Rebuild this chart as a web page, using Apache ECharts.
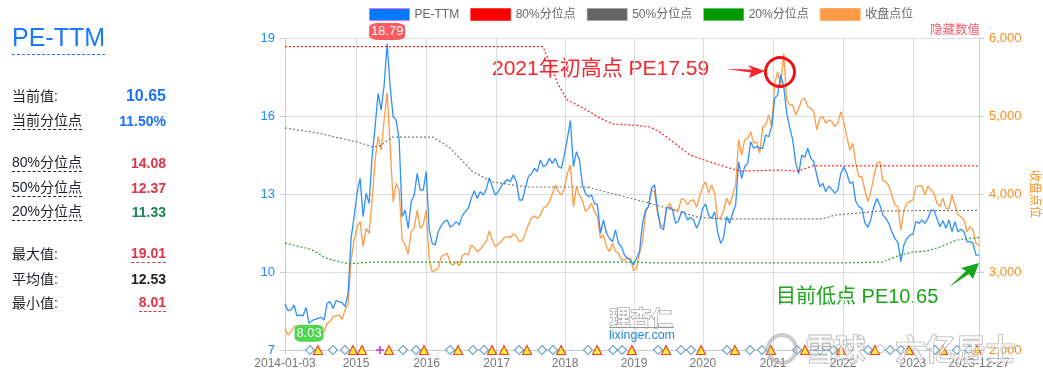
<!DOCTYPE html>
<html>
<head>
<meta charset="utf-8">
<script src="https://cdn.jsdelivr.net/npm/echarts@6/dist/echarts.min.js"></script>
<style>
  html, body { margin: 0; padding: 0; background: #fff; }
  body { font-family: "Liberation Sans", "Noto Sans CJK SC", sans-serif; }
  #chart { position: absolute; left: 0; top: 0; width: 1043px; height: 380px; }
  #panel { position: absolute; left: 12px; top: 0; width: 154px; height: 380px; }
  #panel .title { position: absolute; left: 0; top: 23px; font-size: 25px; line-height: 29px; color: #1a7aff; border-bottom: 1px dashed #1a7aff; padding-bottom: 2px; }
  #panel .label, #panel .value { position: absolute; line-height: 18px; white-space: nowrap; }
  #panel .label { left: 0; font-size: 14px; color: #212529; }
  #panel .value { right: 0; font-weight: bold; font-size: 14px; }
  #panel .tip { border-bottom: 1px dashed #212529; line-height: 17px; }
  #panel .tipRed { border-bottom: 1px dashed #dc3545; line-height: 17px; }
</style>
</head>
<body>
<div id="chart"></div>
<div id="panel"></div>
<script>
const startDate = '2014-01-03';
const endDate = '2023-12-27';
const sampleCount = 232;

const peValues = [
  // 2014 - 2015
  8.77,8.51,8.54,8.73,8.31,8.35,8.31,8.64,8.03,8.13,8.18,8.22,8.26,8.15,8.79,8.86,8.60,8.90,8.86,8.82,8.67,
  9.18,11.29,12.13,13.03,13.60,12.13,13.03,12.64,14.44,15.59,16.87,16.23,17.19,18.79,17.13,15.97,15.85,15.08,12.13,12.38,
  // 2015 - 2017
  11.68,12.70,12.96,13.79,13.15,13.15,13.86,11.62,11.10,11.04,11.55,11.78,11.94,12.00,11.72,11.81,11.94,11.81,12.15,12.32,
  12.45,12.83,13.13,12.83,13.09,12.96,13.18,13.63,13.28,12.96,13.09,13.31,13.44,13.56,13.47,13.73,13.47,12.77,12.77,13.22,
  // 2017 - 2019
  13.67,13.77,13.99,13.86,14.31,14.05,14.12,14.37,14.18,14.37,14.05,13.99,14.50,15.14,15.82,14.05,14.63,14.31,13.35,13.03,
  12.90,12.96,12.64,12.58,11.49,12.00,11.49,11.29,11.17,11.62,11.10,10.97,10.65,10.53,10.46,10.27,10.53,10.78,11.87,12.38,
  // 2019 - 2020
  12.51,13.22,13.35,12.38,11.72,11.62,12.45,12.49,12.38,11.87,11.97,12.32,12.28,12.00,12.10,12.00,11.68,11.94,
  12.45,12.62,12.19,12.06,12.32,11.55,11.10,11.33,12.13,11.87,12.26,12.58,14.24,13.60,14.05,14.18,15.01,14.76,
  // 2020 - 2022
  14.82,14.76,14.76,15.27,15.20,15.59,16.68,16.81,17.59,17.13,16.10,15.56,15.08,14.18,13.79,14.50,14.41,14.76,
  14.37,14.24,13.73,13.28,13.41,13.09,13.31,13.18,13.03,13.15,13.79,14.05,13.79,13.41,13.47,12.71,12.51,
  // 2022 - 2023
  12.45,11.90,11.72,12.03,12.51,12.83,12.58,12.19,12.06,11.87,11.55,11.29,11.13,10.40,11.04,11.29,11.42,11.46,11.94,11.87,
  12.00,11.87,12.06,12.38,12.38,12.06,11.74,11.97,11.68,12.00,11.55,11.94,11.55,11.64,11.55,11.17,11.17,11.10,10.65,10.65
];

const closeValues = [
  // 2014 - 2015
  2278,2192,2235,2299,2308,2278,2235,2214,2171,2150,2150,2150,2192,2235,2342,2363,2427,2436,2449,2393,2513,
  2590,3154,3410,3581,3645,3325,3560,3496,3923,4436,4735,4564,4949,5300,4607,3902,4137,4051,3410,3346,
  // 2015 - 2017
  3231,3517,3560,3795,3560,3603,3795,3154,3004,3026,3047,3197,3218,3239,3111,3090,3133,3077,3205,3239,
  3218,3346,3316,3261,3291,3346,3389,3526,3410,3325,3359,3389,3445,3453,3445,3487,3462,3389,3402,3496,
  // 2017 - 2019
  3603,3688,3718,3688,3731,3825,3838,3902,4000,4116,4030,3987,4073,4265,4370,3838,4094,3987,3915,3774,
  3816,3881,3774,3710,3432,3475,3325,3261,3368,3261,3239,3154,3154,3175,3175,3017,3047,3239,3389,3752,
  // 2019 - 2020
  3859,4051,4030,3752,3603,3581,3816,3880,3804,3795,3804,3945,3923,3859,3914,3923,3829,3966,
  4094,4158,4009,4115,4009,3688,3688,3795,3945,3859,3987,4116,4693,4500,4693,4714,4800,4650,
  // 2020 - 2022
  4671,4522,4855,4885,5013,4864,5419,5569,5398,5800,5205,5141,5141,5013,5099,5205,5227,5120,
  5099,5056,4821,4970,4992,4906,4949,4928,4864,4906,5056,4928,4735,4564,4650,4393,4222,
  // 2022 - 2023
  4222,4051,3902,4030,4222,4393,4415,4171,4158,4103,3987,3859,3838,3539,3795,3881,3902,3923,4094,4103,
  4103,3987,4103,4051,4009,3881,3838,3945,3816,3816,3987,3859,3731,3710,3667,3517,3581,3539,3368,3333
];

const p80Dates = ['2014-01-03','2017-09-19','2017-09-30','2017-10-26','2017-12-02','2018-01-23','2018-04-17','2018-07-15','2018-09-22','2019-01-05','2019-04-04','2019-05-27','2019-08-03','2019-10-31','2020-02-29','2020-07-20','2021-02-15','2021-05-15','2021-08-07','2023-12-27'];
const p80Values = [18.67,18.67,18.46,18.04,17.31,16.62,16.31,15.92,15.69,15.65,15.58,15.38,15.00,14.50,14.19,13.88,13.92,13.88,14.08,14.08];

const p50Dates = ['2014-01-03','2014-06-20','2015-01-16','2015-04-10','2015-05-17','2015-07-24','2016-02-19','2016-05-19','2016-09-16','2016-12-30','2017-06-27','2018-05-08','2019-03-09','2019-06-11','2019-12-07','2020-03-26','2021-09-23','2021-12-01','2022-04-11','2022-08-04','2023-12-27'];
const p50Values = [15.54,15.35,15.00,14.81,14.85,15.19,15.19,14.77,13.85,13.46,13.27,13.27,12.69,12.50,12.12,12.04,12.04,12.19,12.27,12.35,12.37];

const p20Dates = ['2014-01-03','2014-02-14','2014-05-14','2014-06-25','2014-08-01','2014-10-03','2014-12-10','2015-02-01','2015-04-10','2019-01-05','2019-04-04','2022-01-12','2022-08-04','2022-11-07','2023-01-14','2023-03-29','2023-06-05','2023-09-02','2023-12-27'];
const p20Values = [11.12,11.04,10.88,10.73,10.54,10.42,10.31,10.35,10.38,10.38,10.35,10.35,10.38,10.65,10.77,10.81,10.96,11.23,11.33];

const diamondDates = ['2014-05-14','2014-09-12','2014-11-14','2015-09-15','2015-11-22','2016-05-19','2016-09-16','2016-11-13','2017-05-16','2017-09-14','2017-11-11','2018-05-13','2018-09-22','2018-11-08','2019-05-16','2019-09-14','2019-11-05','2020-05-12','2020-09-10','2020-11-12','2021-05-15','2021-09-13','2021-11-20','2022-05-23','2022-09-16','2022-11-12','2023-05-10','2023-09-02','2023-11-04'];
const triangleDates = ['2014-06-25','2014-12-26','2015-02-11','2015-07-03','2016-01-03','2016-06-30','2016-12-25','2017-02-26','2017-06-27','2017-12-23','2018-06-30','2018-12-30','2019-06-27','2019-12-28','2020-06-23','2020-12-29','2021-06-26','2022-01-01','2022-06-29','2022-12-24','2023-06-21','2023-12-16'];
const plusDates = ['2015-05-17'];

const xTickDates = ['2014-01-03','2015-01-11','2016-01-17','2017-01-19','2018-01-13','2019-01-10','2020-01-07','2021-01-09','2022-01-12','2023-01-14','2023-12-27'];
const xTickLabels = ['2014-01-03','2015','2016','2017','2018','2019','2020','2021','2022','2023','2023-12-27'];

const statLabels = ['当前值:','当前分位点','80%分位点','50%分位点','20%分位点','最大值:','平均值:','最小值:'];
const statValues = ['10.65','11.50%','14.08','12.37','11.33','19.01','12.53','8.01'];
const statRows = [87,112,154,179,203,245,270,294];
const statColors = ['#1a6fff','#1a6fff','#dc3545','#dc3545','#198754','#dc3545','#212529','#dc3545'];
const statLabelTips = [false,true,true,true,true,false,false,false];
const statValueTips = [false,false,false,false,false,true,false,true];

const t = s => +new Date(s + 'T00:00:00');
const tMin = t(startDate);
const tMax = t(endDate);
const sampleTimes = peValues.map((_, i) => tMin + i * (tMax - tMin) / (sampleCount - 1));
const pairs = (dates, values) => dates.map((d, i) => [t(d), values[i]]);
const xTicks = xTickDates.map(t);

// left stats panel
const panel = document.getElementById('panel');
let html = '<div class="title">PE-TTM</div>';
statLabels.forEach((label, i) => {
  html += `<div class="label${statLabelTips[i] ? ' tip' : ''}" style="top:${statRows[i]}px">${label}</div>`;
  const size = i === 0 ? 16 : 14;
  html += `<div class="value${statValueTips[i] ? ' tipRed' : ''}" style="top:${statRows[i]}px;color:${statColors[i]};font-size:${size}px">${statValues[i]}</div>`;
});
panel.innerHTML = html;

const chart = echarts.init(document.getElementById('chart'), null, { renderer: 'canvas' });
const fontFamily = '"Liberation Sans", "Noto Sans CJK SC", sans-serif';
const quantileLine = (name, color, data) => ({
  name, type: 'line', yAxisIndex: 0, z: 4, symbol: 'none', silent: true, data,
  lineStyle: { color, width: 1.2, type: [2, 2] }
});
const markerRow = (name, dates, symbol, size, style) => ({
  name, type: 'scatter', yAxisIndex: 0, z: 5, symbol, symbolSize: size, silent: true, clip: false,
  data: dates.map(d => [t(d), 7]), itemStyle: style
});
const bubbleLabel = { show: true, color: '#fff', fontSize: 13, fontFamily, formatter: p => p.value };

chart.setOption({
  animation: false,
  textStyle: { fontFamily },
  legend: {
    left: 364, top: 3, itemWidth: 40, itemHeight: 12, itemGap: 11,
    textStyle: { color: '#666', fontSize: 12, fontFamily },
    data: [
      { name: 'PE-TTM', icon: 'rect', itemStyle: { color: '#007bff', borderColor: '#f070f0', borderWidth: 1 } },
      { name: '80%分位点', icon: 'rect', itemStyle: { color: '#ff0000', borderColor: '#ff0000', borderWidth: 1, borderType: 'dotted' } },
      { name: '50%分位点', icon: 'rect', itemStyle: { color: '#666666', borderColor: '#999999', borderWidth: 1, borderType: 'dotted' } },
      { name: '20%分位点', icon: 'rect', itemStyle: { color: '#009900', borderColor: '#55bb55', borderWidth: 1, borderType: 'dotted' } },
      { name: '收盘点位', icon: 'rect', itemStyle: { color: '#ff9b44', borderColor: '#ffb070', borderWidth: 1 } }
    ]
  },
  grid: { left: 285, right: 64, top: 38, bottom: 30, outerBoundsMode: 'none' },
  xAxis: {
    type: 'value', min: tMin, max: tMax, scale: true,
    axisLine: { lineStyle: { color: '#ccc' } },
    axisTick: { show: true, length: 4, lineStyle: { color: '#ccc' }, customValues: xTicks },
    splitLine: { show: true, lineStyle: { color: '#ddd' }, customValues: xTicks },
    axisLabel: {
      color: '#777', fontSize: 12, margin: 8, hideOverlap: false,
      customValues: xTicks, showMinLabel: true, showMaxLabel: true, alignMinLabel: 'center', alignMaxLabel: 'center',
      formatter: v => { const i = xTicks.indexOf(v); return i >= 0 ? xTickLabels[i] : ''; }
    }
  },
  yAxis: [
    {
      type: 'value', min: 7, max: 19, interval: 3, position: 'left',
      axisLine: { show: true, lineStyle: { color: '#ccc' } },
      axisTick: { show: true, length: 5, lineStyle: { color: '#ccc' } },
      axisLabel: { color: '#1e88ff', fontSize: 13, margin: 10 },
      splitLine: { show: true, lineStyle: { color: '#ddd' } }
    },
    {
      type: 'value', min: 2000, max: 6000, interval: 1000, position: 'right',
      name: '收盘点位', nameLocation: 'middle', nameRotate: -90, nameGap: 49, nameMoveOverlap: false,
      nameTextStyle: { color: '#ff8c1a', fontSize: 12 },
      axisLine: { show: true, lineStyle: { color: '#ccc' } },
      axisTick: { show: true, length: 5, lineStyle: { color: '#ccc' } },
      axisLabel: { color: '#ff8c1a', fontSize: 13, margin: 10, formatter: v => v.toLocaleString('en-US') },
      splitLine: { show: false }
    }
  ],
  series: [
    {
      name: 'PE-TTM', type: 'line', yAxisIndex: 0, z: 3, symbol: 'none',
      data: sampleTimes.map((x, i) => [x, peValues[i]]),
      lineStyle: { color: '#2f8fff', width: 1.3 },
      markPoint: {
        silent: true,
        data: [
          { type: 'max', symbol: 'roundRect', symbolSize: [36, 17], symbolOffset: [0, -12], itemStyle: { color: '#ff5a5f' }, label: bubbleLabel },
          { type: 'min', symbol: 'roundRect', symbolSize: [29, 17], symbolOffset: [0, 10], itemStyle: { color: '#4fd64f' }, label: bubbleLabel }
        ]
      }
    },
    quantileLine('80%分位点', '#ff2020', pairs(p80Dates, p80Values)),
    quantileLine('50%分位点', '#777777', pairs(p50Dates, p50Values)),
    quantileLine('20%分位点', '#22a822', pairs(p20Dates, p20Values)),
    {
      name: '收盘点位', type: 'line', yAxisIndex: 1, z: 2, symbol: 'none',
      data: sampleTimes.map((x, i) => [x, closeValues[i]]),
      lineStyle: { color: '#ff9b44', width: 1.3 }
    },
    markerRow('diamond', diamondDates, 'diamond', 9, { color: '#fff', borderColor: '#4f93b8', borderWidth: 1.2 }),
    markerRow('triangle', triangleDates, 'triangle', 9, { color: '#ffee00', borderColor: '#e8141c', borderWidth: 1.2 }),
    markerRow('plus', plusDates, 'path://M4 0h2v4h4v2h-4v4h-2v-4h-4v-2h4z', 8, { color: '#c000e0' })
  ],
  graphic: [
    { type: 'text', left: 930, top: 24, style: { text: '隐藏数值', fill: '#ff5a6a', font: '12.5px ' + fontFamily } },
    { type: 'text', left: 492, top: 59, style: { text: '2021年初高点 PE17.59', fill: '#f5272c', font: '21px ' + fontFamily } },
    { type: 'text', left: 776, top: 287, style: { text: '目前低点 PE10.65', fill: '#1aa51a', font: '20px ' + fontFamily } },
    { type: 'circle', shape: { cx: 780, cy: 72, r: 14.5 }, style: { fill: 'none', stroke: '#ee1111', lineWidth: 3 }, z: 20 },
    { type: 'polygon', shape: { points: [[726, 69], [752, 69.5], [748, 65], [765, 71], [749, 78], [751, 72.5]] }, style: { fill: '#f5272c' }, z: 20 },
    { type: 'polygon', shape: { points: [[949, 287], [966, 271], [961, 268], [979, 263], [973, 279], [969, 274]] }, style: { fill: '#1aa51a' }, z: 20 },
    // watermarks
    { type: 'text', left: 609, top: 306, style: { text: '理杏仁', fill: 'rgba(255,255,255,0.9)', stroke: '#888', lineWidth: 1, font: 'bold 21px "Noto Sans CJK SC"' }, z: 15 },
    { type: 'line', shape: { x1: 609, y1: 327.5, x2: 674, y2: 327.5 }, style: { stroke: '#999', lineWidth: 1 }, z: 15 },
    { type: 'text', left: 609, top: 329, style: { text: 'lixinger.com', fill: '#1e88e5', font: '12.5px ' + fontFamily }, z: 15 },
    { type: 'circle', shape: { cx: 782, cy: 349, r: 14 }, style: { fill: 'none', stroke: 'rgba(170,170,170,0.6)', lineWidth: 4 }, z: 16 },
    { type: 'text', left: 805, top: 333, style: { text: '雪球·六亿居士', fill: 'rgba(255,255,255,0.55)', stroke: 'rgba(130,130,130,0.6)', lineWidth: 1.2, font: 'bold 30px "Noto Sans CJK SC"' }, z: 16 }
  ]
});
</script>
</body>
</html>
